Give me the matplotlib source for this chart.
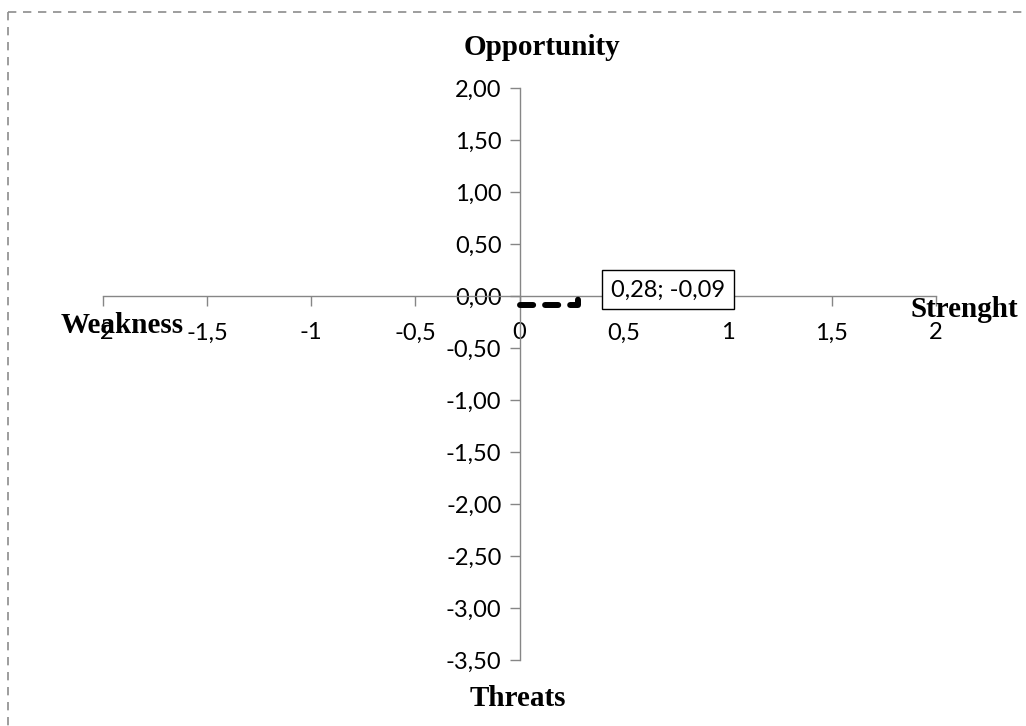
import matplotlib
matplotlib.use("Agg")
import matplotlib.pyplot as plt
from matplotlib.lines import Line2D

# Data
point_x = [0.0, 0.28, 0.28]
point_y = [-0.09, -0.09, 0.0]
label_text = "0,28; -0,09"
x_ticks = [-2, -1.5, -1, -0.5, 0, 0.5, 1, 1.5, 2]
x_tick_labels = ["-2", "-1,5", "-1", "-0,5", "0", "0,5", "1", "1,5", "2"]
y_ticks = [2.0, 1.5, 1.0, 0.5, 0.0, -0.5, -1.0, -1.5, -2.0, -2.5, -3.0, -3.5]
y_tick_labels = ["2,00", "1,50", "1,00", "0,50", "0,00", "-0,50", "-1,00", "-1,50",
                 "-2,00", "-2,50", "-3,00", "-3,50"]

W, H = 1026, 726
fig = plt.figure(figsize=(W / 100, H / 100), dpi=100)
fig.patch.set_facecolor("white")

ax = fig.add_axes([103 / W, (H - 660) / H, (936 - 103) / W, (660 - 88) / H])
ax.set_xlim(-2, 2)
ax.set_ylim(-3.5, 2)
ax.set_facecolor("none")

for s in ["top", "right"]:
    ax.spines[s].set_visible(False)
ax.spines["left"].set_position(("data", 0))
ax.spines["bottom"].set_position(("data", 0))
for s in ["left", "bottom"]:
    ax.spines[s].set_color("#868686")
    ax.spines[s].set_linewidth(1.0)

tick_font = dict(family="Lato", size=17, color="#000000")
ax.set_xticks(x_ticks)
ax.set_xticklabels(x_tick_labels, fontdict=tick_font)
ax.set_yticks(y_ticks)
ax.set_yticklabels(y_tick_labels, fontdict=tick_font)
ax.tick_params(axis="x", direction="out", length=7, width=1, color="#868686", pad=12)
ax.tick_params(axis="y", direction="out", length=7, width=1, color="#868686", pad=6)

ax.plot(point_x, point_y, color="black", linewidth=4.3, linestyle=(0, (2.2, 2.0)),
        dash_capstyle="round", solid_capstyle="round", zorder=5)

ax.text(0.715, 0.058, label_text, ha="center", va="center", fontsize=17,
        family="Lato", color="black", zorder=6,
        bbox=dict(boxstyle="square,pad=0.38", facecolor="white", edgecolor="black", linewidth=1))

title_font = dict(family="Liberation Serif", weight="bold", size=21, color="black")
fig.text(542 / W, 1 - 55 / H, "Opportunity", ha="center", va="baseline", **title_font)
fig.text(518 / W, 1 - 706 / H, "Threats", ha="center", va="baseline", **title_font)
fig.text(122 / W, 1 - 333 / H, "Weakness", ha="center", va="baseline", **title_font)
fig.text(964 / W, 1 - 317 / H, "Strenght", ha="center", va="baseline", **title_font)

# dashed border
border = dict(color="#8c8c8c", linewidth=1.2, linestyle=(0, (5, 4)))
fig.add_artist(Line2D([8 / W, 1.0], [1 - 12 / H, 1 - 12 / H], transform=fig.transFigure, **border))
fig.add_artist(Line2D([8 / W, 8 / W], [1 - 12 / H, 0.0], transform=fig.transFigure, **border))

fig.savefig("out.png", dpi=100)
